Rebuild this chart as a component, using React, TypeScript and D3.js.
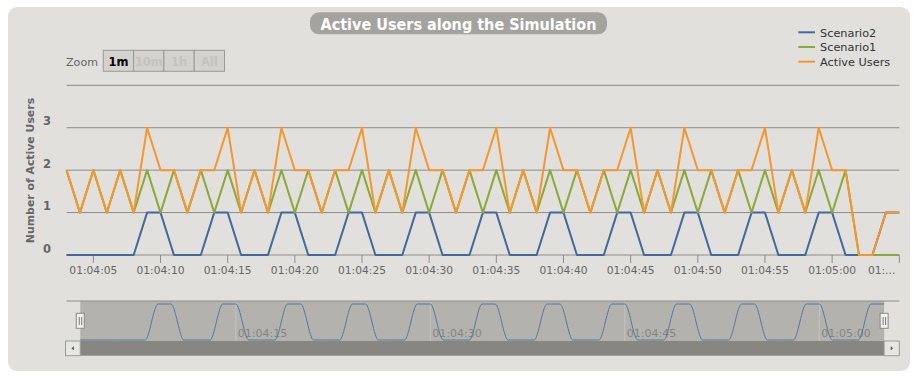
import React from "react";
import * as d3 from "d3";

// ---------- data ----------
const startTime = "01:04:03"; // first sample, one sample per second
const scenario2 = [
  0, 0, 0, 0, 0, 0, 1, 1, 0, 0,
  0, 1, 1, 0, 0, 0, 1, 1, 0, 0,
  0, 1, 1, 0, 0, 0, 1, 1, 0, 0,
  0, 1, 1, 0, 0, 0, 1, 1, 0, 0,
  0, 1, 1, 0, 0, 0, 1, 1, 0, 0,
  0, 1, 1, 0, 0, 0, 1, 1, 0, 0,
  0, 1, 1,
];
const scenario1 = [
  2, 1, 2, 1, 2, 1, 2, 1, 2, 1,
  2, 1, 2, 1, 2, 1, 2, 1, 2, 1,
  2, 1, 2, 1, 2, 1, 2, 1, 2, 1,
  2, 1, 2, 1, 2, 1, 2, 1, 2, 1,
  2, 1, 2, 1, 2, 1, 2, 1, 2, 1,
  2, 1, 2, 1, 2, 1, 2, 1, 2, 0,
  0, 0, 0,
];
const activeUsers = [
  2, 1, 2, 1, 2, 1, 3, 2, 2, 1,
  2, 2, 3, 1, 2, 1, 3, 2, 2, 1,
  2, 2, 3, 1, 2, 1, 3, 2, 2, 1,
  2, 2, 3, 1, 2, 1, 3, 2, 2, 1,
  2, 2, 3, 1, 2, 1, 3, 2, 2, 1,
  2, 2, 3, 1, 2, 1, 3, 2, 2, 0,
  0, 1, 1,
];
const seriesNames = ["Scenario2", "Scenario1", "Active Users"];
const seriesColors = ["#41699e", "#8ca83a", "#f4972f"];
const yTicks = [0, 1, 2, 3, 4];
const zoomButtons = ["1m", "10m", "1h", "All"];
const navigatorStart = "01:04:01.940";
const navigatorEnd = "01:05:06.170";
const chartTitle = "Active Users along the Simulation";
const yTitle = "Number of Active Users";

// ---------- helpers ----------
const FONT = "'DejaVu Sans', Verdana, sans-serif";
const parseT = d3.timeParse("%H:%M:%S");
const parseTL = d3.timeParse("%H:%M:%S.%L");
const fmt = d3.timeFormat("%H:%M:%S");
const t0 = parseT(startTime) as Date;
const times = activeUsers.map((_, i) => d3.timeSecond.offset(t0, i));
const allSeries = [scenario2, scenario1, activeUsers];

export default function App() {
  const W = 922, H = 380;
  const plotL = 66.5, plotR = 899.3, plotT = 85.3, plotB = 255;
  const x = d3.scaleTime().domain([times[0], times[times.length - 1]]).range([plotL, plotR]);
  const y = d3.scaleLinear().domain([0, 4]).range([plotB, plotT]);
  const line = d3.line<number>().x((_, i) => x(times[i])).y((d) => y(d));

  const xTicks = d3.timeSecond.every(5)!.range(times[0], d3.timeSecond.offset(times[times.length - 1], 1));

  // navigator
  const navT = 301, navB = 341, sbB = 355.7;
  const xn = d3.scaleTime()
    .domain([parseTL(navigatorStart) as Date, parseTL(navigatorEnd) as Date])
    .range([plotL, plotR]);
  const yn = d3.scaleLinear().domain([0, 1]).range([340, 304]);
  const navLine = d3.line<number>().x((_, i) => xn(times[i])).y((d) => yn(d)).curve(d3.curveMonotoneX);
  const navTicks = d3.timeSecond.every(15)!.range(xn.domain()[0], xn.domain()[1]);
  const selL = xn(times[0]);
  const selR = xn(times[times.length - 1]);

  const handle = (cx: number, key: string) => (
    <g key={key}>
      <rect x={cx - 4} y={313.3} width={8} height={15} fill="#f2f2f0" stroke="#8a8a86" strokeWidth={1} />
      <line x1={cx - 1} x2={cx - 1} y1={317} y2={325} stroke="#777" strokeWidth={1} />
      <line x1={cx + 1.5} x2={cx + 1.5} y1={317} y2={325} stroke="#777" strokeWidth={1} />
    </g>
  );

  return (
    <svg width={W} height={H} style={{ position: "absolute", left: 0, top: 0 }} fontFamily={FONT}>
      <rect x={0} y={0} width={W} height={H} fill="#ffffff" />
      <rect x={8} y={7} width={902} height={364} rx={9} fill="#e1e0dc" />

      {/* title */}
      <rect x={310} y={12.3} width={297} height={22} rx={9} fill="#a4a39d" />
      <text x={320.5} y={29.8} textLength={276} lengthAdjust="spacingAndGlyphs" fontSize={15.6} fontWeight="bold" fill="#ffffff">
        {chartTitle}
      </text>

      {/* range selector */}
      <text x={66} y={66.3} fontSize={11.1} fill="#666">Zoom</text>
      {zoomButtons.map((b, i) => (
        <g key={b}>
          <rect x={103.3 + i * 30.3} y={50.3} width={30.3} height={21} fill="#d3d2ce" stroke="#9a9a96" strokeWidth={1} />
          <text x={103.3 + i * 30.3 + 15.15} y={65.8} textAnchor="middle" fontSize={11.5} fontWeight="bold"
            fill={i === 0 ? "#000" : "#c4c3bf"}>{b}</text>
        </g>
      ))}

      {/* legend */}
      {seriesNames.map((n, i) => (
        <g key={n}>
          <line x1={798.3} x2={815} y1={32.3 + i * 14.7} y2={32.3 + i * 14.7} stroke={seriesColors[i]} strokeWidth={2} />
          <text x={820} y={36.5 + i * 14.7} fontSize={11.3} fill="#333">{n}</text>
        </g>
      ))}

      {/* grid */}
      {yTicks.map((t) => (
        <g key={t}>
          <line x1={plotL} x2={plotR} y1={y(t)} y2={y(t)} stroke="#8d8c88" strokeWidth={1} />
          {t < 4 && (
            <text x={51} y={y(t) - 2.4} textAnchor="end" fontSize={11.5} fontWeight="bold" fill="#666">{t}</text>
          )}
        </g>
      ))}
      <text transform={`translate(34,170.5) rotate(-90)`} textAnchor="middle" fontSize={10.9} fontWeight="bold" fill="#666">
        {yTitle}
      </text>

      {/* x axis */}
      {xTicks.map((t, i) => {
        const px = x(t);
        const last = px > plotR - 20;
        return (
          <g key={i}>
            <line x1={px} x2={px} y1={plotB} y2={plotB + 8} stroke="#8d8c88" strokeWidth={1} />
            <text x={last ? px - 4 : px} y={274} textAnchor={last ? "end" : "middle"} fontSize={10.7} fill="#666">
              {last ? fmt(t).slice(0, 3) + "..." : fmt(t)}
            </text>
          </g>
        );
      })}

      {/* series */}
      {allSeries.map((s, i) => (
        <path key={i} d={line(s) || ""} fill="none" stroke={seriesColors[i]} strokeWidth={2} strokeLinejoin="round" />
      ))}

      {/* navigator */}
      <rect x={selL} y={navT} width={selR - selL} height={navB - navT} fill="#b3b2ac" />
      {navTicks.map((t, i) => (
        <g key={i}>
          <line x1={xn(t)} x2={xn(t)} y1={navT} y2={navB} stroke="#c3c2bd" strokeWidth={1} />
          <text x={xn(t) + 2} y={337} fontSize={11} fill="#858580">{fmt(t)}</text>
        </g>
      ))}
      <path d={navLine(scenario2) || ""} fill="none" stroke="#5576a4" strokeWidth={1} />
      <line x1={plotL} x2={plotR} y1={navT} y2={navT} stroke="#8d8c88" strokeWidth={1} />

      {/* scrollbar */}
      <rect x={selL} y={navB} width={selR - selL} height={sbB - navB} fill="#878680" />
      <rect x={65.5} y={navB} width={selL - 65.5} height={sbB - navB} fill="#e6e6e3" stroke="#9a9a96" strokeWidth={1} />
      <path d={`M${(65.5 + selL) / 2 + 1},${(navB + sbB) / 2 - 2} l-2.5,2 l2.5,2 z`} fill="#555" />
      <rect x={selR} y={navB} width={plotR - selR} height={sbB - navB} fill="#e6e6e3" stroke="#9a9a96" strokeWidth={1} />
      <path d={`M${(plotR + selR) / 2 - 1},${(navB + sbB) / 2 - 2} l2.5,2 l-2.5,2 z`} fill="#555" />

      {handle(selL, "hl")}
      {handle(selR, "hr")}
    </svg>
  );
}
